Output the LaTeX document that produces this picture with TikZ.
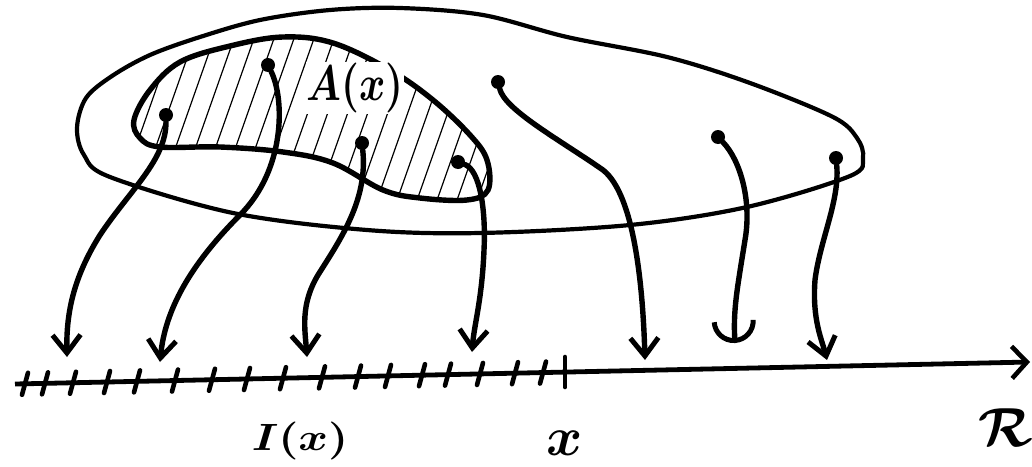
\documentclass[tikz,border=0pt]{standalone}
\usepackage{graphicx}
\usepackage{tikz}
\usetikzlibrary{arrows.meta}
\tikzset{
  dot/.style={circle, fill=black, inner sep=0pt, minimum size=14pt},
  map/.style={line width=5.4pt, line cap=round, -{Straight Barb[length=18pt, width=28pt, line width=5pt]}},
  hookmap/.style={line width=5.4pt, line cap=round, -{Arc Barb[length=22pt, width=44pt, line width=5pt]}},
  hatch/.style={line width=1.2pt},
  tick/.style={line width=4.6pt, line cap=round},
  lbl/.style={font=\boldmath}
}

\begin{document}
\begin{tikzpicture}[x=1pt, y=-1pt]
  \useasboundingbox (0,0) rectangle (1032,466);
  % the big set
  \draw[line width=4.2pt] plot[smooth cycle, tension=0.55] coordinates {(77,128) (86,98) (112,76) (150,55) (200,37) (260,20) (330,10) (400,8) (483,15) (567,37) (667,57) (750,83) (833,117) (857,138) (863,158) (850,176) (747,207) (630,225) (480,233) (367,230) (233,213) (110,177) (84,155)};
  % the subset A(x), hatched
  \begin{scope}
    \clip plot[smooth cycle, tension=0.6] coordinates {(134,120) (150,90) (180,62) (230,46) (283,37) (333,43) (390,70) (433,100) (470,135) (487,160) (488,190) (467,200) (420,198) (383,190) (333,163) (283,152) (220,147) (160,147) (140,138)};
    \foreach \i in {0,...,21}
      \draw[hatch] (90+\i*20,220) -- ++(67,-190);
  \end{scope}
  \draw[line width=5.4pt] plot[smooth cycle, tension=0.6] coordinates {(134,120) (150,90) (180,62) (230,46) (283,37) (333,43) (390,70) (433,100) (470,135) (487,160) (488,190) (467,200) (420,198) (383,190) (333,163) (283,152) (220,147) (160,147) (140,138)};
  \node[lbl, fill=white, inner sep=1pt] (A) at (355,88) {\scalebox{4}[5]{$A(x)$}};

  % axis
  \coordinate (a0) at (15,384);
  \coordinate (a1) at (1030,362);
  \draw[line width=4.8pt, -{Straight Barb[length=15pt, width=32pt, line width=4.6pt]}] (a0) -- (a1);
  \foreach \t in {25,45,73,107,137,175,212,247,283,322,358,388,422,448,480,515,543}{
    \pgfmathsetmacro{\ty}{384-(\t-15)*22/1015}
    \draw[tick] (\t-3,\ty+11) -- (\t+3,\ty-11);
  }
  \draw[tick] (565,387) -- (565,357);

  % points and their images
  \node[dot] (p1) at (166,115) {};
  \node[dot] (p2) at (268,65) {};
  \node[dot] (p3) at (362,143) {};
  \node[dot] (p4) at (458,162) {};
  \node[dot] (p5) at (498,82) {};
  \node[dot] (p6) at (718,137) {};
  \node[dot] (p7) at (836,158) {};
  \coordinate (t1) at (67,357);
  \coordinate (t2) at (160,362);
  \coordinate (t3) at (307,357);
  \coordinate (t4) at (472,352);
  \coordinate (t5) at (645,360);
  \coordinate (t6) at (735,343);
  \coordinate (t7) at (827,360);
  \draw[map] (p1) .. controls (166,160) and (130,190) .. (100,235) .. controls (75,275) and (66,310) .. (t1);
  \draw[map] (p2) .. controls (285,100) and (285,170) .. (240,215) .. controls (190,265) and (165,310) .. (t2);
  \draw[map] (p3) .. controls (368,200) and (340,240) .. (318,275) .. controls (300,305) and (305,330) .. (t3);
  \draw[map] (p4) .. controls (480,170) and (486,210) .. (484,250) .. controls (482,300) and (474,325) .. (t4);
  \draw[map] (p5) .. controls (505,110) and (560,140) .. (603,170) .. controls (635,195) and (643,290) .. (t5);
  \draw[hookmap] (p6) .. controls (740,160) and (752,200) .. (745,240) .. controls (737,290) and (733,310) .. (t6);
  \draw[map] (p7) .. controls (840,200) and (820,240) .. (815,280) .. controls (812,320) and (822,340) .. (t7);

  % labels
  \node[lbl] (Ix) at (300,441) {\scalebox{4.5}[3.8]{$I(x)$}};
  \node[lbl] (x) at (565,443) {\scalebox{5.5}{$x$}};
  \node[lbl] (R) at (1006,428) {\scalebox{5.5}{$\mathcal{R}$}};
\end{tikzpicture}
\end{document}
